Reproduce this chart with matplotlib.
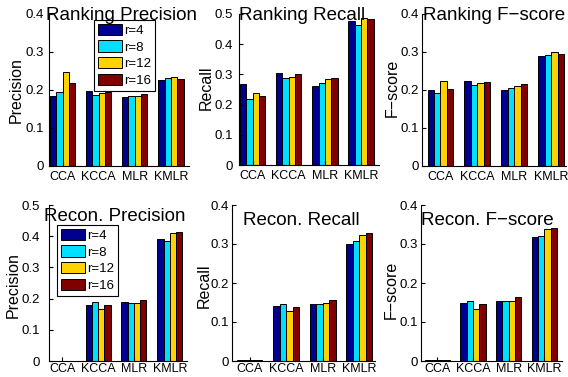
import matplotlib
matplotlib.use("Agg")
import matplotlib.pyplot as plt
import numpy as np

plt.rcParams['font.family'] = ['Liberation Sans', 'DejaVu Sans']

methods = ["CCA", "KCCA", "MLR", "KMLR"]
ranks = ["r=4", "r=8", "r=12", "r=16"]
colors = ["#00008F", "#00DFFF", "#FFD200", "#800000"]

# rows = methods, cols = r=4, 8, 12, 16
rank_prec = [[0.184, 0.194, 0.248, 0.219],
             [0.197, 0.187, 0.193, 0.195],
             [0.182, 0.184, 0.185, 0.190],
             [0.226, 0.231, 0.234, 0.228]]
rank_rec = [[0.267, 0.220, 0.240, 0.227],
            [0.304, 0.289, 0.293, 0.300],
            [0.260, 0.273, 0.284, 0.287],
            [0.476, 0.464, 0.488, 0.485]]
rank_f = [[0.201, 0.192, 0.224, 0.203],
          [0.223, 0.213, 0.218, 0.221],
          [0.200, 0.206, 0.210, 0.215],
          [0.290, 0.291, 0.299, 0.294]]
rec_prec = [[0.0015, 0.0015, 0.0015, 0.0015],
            [0.181, 0.188, 0.166, 0.178],
            [0.190, 0.187, 0.186, 0.195],
            [0.390, 0.384, 0.411, 0.414]]
rec_rec = [[0.0015, 0.0015, 0.0015, 0.0015],
           [0.141, 0.146, 0.127, 0.139],
           [0.145, 0.146, 0.148, 0.156],
           [0.300, 0.307, 0.322, 0.329]]
rec_f = [[0.0015, 0.0015, 0.0015, 0.0015],
         [0.148, 0.155, 0.134, 0.146],
         [0.155, 0.155, 0.155, 0.163],
         [0.318, 0.320, 0.339, 0.342]]

W, H = 568, 377

# panel: data, title, ylabel, ymax, box (left, right, top, bottom) px, xlim,
# title pos px, ylabel pos px, y tick pad px, x tick pad px
panels = [
    (rank_prec, "Ranking Precision", "Precision", 0.4, (49, 189, 14, 166), (0.625, 4.5), (121, 20), (16.5, 90), 5.5, 5),
    (rank_rec, "Ranking Recall", "Recall", 0.5, (239, 379, 14, 165), (0.62, 4.5), (302, 20), (206, 88), 6, 5),
    (rank_f, "Ranking F\u2212score", "F\u2212score", 0.4, (422, 566, 14, 166), (0.5, 4.4), (494, 20), (392.5, 88), 3, 5),
    (rec_prec, "Recon. Precision", "Precision", 0.5, (49, 187, 205, 361), (0.63, 4.48), (115, 221), (13, 285), 9, 2.5),
    (rec_rec, "Recon. Recall", "Recall", 0.4, (232, 375, 205, 361), (0.52, 4.43), (301, 225), (204, 286), 3, 2.5),
    (rec_f, "Recon. F\u2212score", "F\u2212score", 0.4, (421, 562, 205, 361), (0.545, 4.49), (487, 225), (391.5, 290), 3, 2.5),
]

fig = plt.figure(figsize=(W / 100, H / 100), dpi=100)

bw = 0.175
x = np.arange(1, 5)
axes = []
for data, title, ylab, ymax, (l, r, t, b), xl, tpos, ypos, ypad, xpad in panels:
    ax = fig.add_axes([l / W, 1 - b / H, (r - l) / W, (b - t) / H])
    vals = np.array(data)
    for j in range(4):
        ax.bar(x + (j - 1.5) * bw, vals[:, j], bw, color=colors[j],
               edgecolor="black", linewidth=0.7, label=ranks[j])
    ax.set_xlim(*xl)
    ax.set_ylim(0, ymax)
    ax.set_yticks(np.arange(0, ymax + 0.001, 0.1))
    ax.set_yticklabels(["0"] + ["%.1f" % v for v in np.arange(0.1, ymax + 0.001, 0.1)])
    ax.set_xticks(x)
    ax.set_xticklabels(methods)
    ax.spines["top"].set_visible(False)
    ax.spines["right"].set_visible(False)
    ax.tick_params(direction="in", length=3, colors="black")
    ax.tick_params(axis="y", labelsize=9.5, pad=ypad * 0.72)
    ax.tick_params(axis="x", labelsize=9, pad=xpad * 0.72)
    fig.text(tpos[0] / W, 1 - tpos[1] / H, title, ha="center", va="baseline", fontsize=13.5)
    fig.text(ypos[0] / W, 1 - ypos[1] / H, ylab, ha="center", va="center",
             rotation=90, fontsize=11.5)
    axes.append(ax)

# legends
for ax, (lx, ly) in [(axes[0], (94, 20)), (axes[3], (57, 225))]:
    leg = ax.legend(loc="upper left", bbox_to_anchor=(lx / W, 1 - ly / H),
                    bbox_transform=fig.transFigure, borderaxespad=0,
                    fancybox=False, framealpha=1, edgecolor="black",
                    fontsize=9.5, handlelength=1.8, handleheight=0.95,
                    handletextpad=0.2, labelspacing=0.25, borderpad=0.3)
    leg.get_frame().set_linewidth(0.8)

fig.savefig("out.png", dpi=100)
